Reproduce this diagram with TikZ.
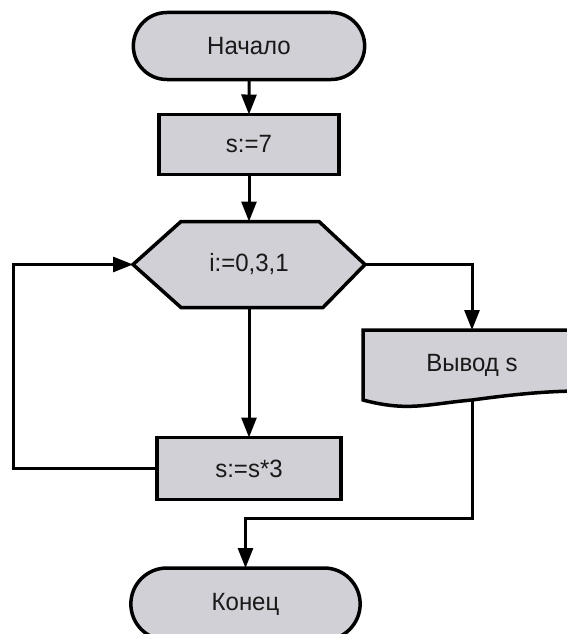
\documentclass[tikz,border=0pt]{standalone}
\usepackage{fontspec}
\setmainfont{Liberation Sans}[FakeStretch=0.96]
\usetikzlibrary{arrows.meta, backgrounds, calc, positioning, shapes.misc}
\definecolor{block fill}{RGB}{208,208,214}

\begin{document}
\begin{tikzpicture}[node distance=35pt, font=\fontsize{25pt}{28pt}\selectfont]
\tikzset{every node/.style={inner sep=1mm, outer sep=0mm, text=black!90}}

\tikzstyle{terminal}=[rounded rectangle, draw=black, fill=block fill, line width=3.5pt, minimum width=237pt, minimum height=67pt]
\tikzstyle{process}=[rectangle, draw=black, fill=block fill, line width=3.5pt, minimum width=180pt, minimum height=60pt]
\tikzstyle{loop head}=[rectangle, minimum width=232pt, minimum height=86pt] % border drawn below
\tikzstyle{display}=[rectangle, minimum width=218pt, minimum height=70pt] % border drawn below
\tikzstyle{outline}=[draw=black, fill=block fill, line width=3.5pt]
\tikzstyle{post}=[-{Triangle[length=20pt, width=15pt]}, line width=3pt]

\clip (0,0) rectangle (567pt,-634pt);

\node[terminal] (start) at (249pt,-46pt) {Начало};
\node[process, below=of start] (s init) {s:=7};
\node[loop head, below=47pt of s init] (loop) {i:=0,3,1};
\node[process, minimum width=184pt, minimum height=62pt, below=130pt of loop] (s mul) {s:=s*3};

\node[display] (print) at (472pt,-365pt) {Вывод s};
\node[terminal, minimum width=235pt, minimum height=72pt] (stop) at (245.5pt,-604pt) {Конец};

\coordinate (loop back) at (13pt,-469pt);

\begin{scope}[on background layer]
    % hexagon of the loop
    \draw[outline] (loop.west) -- ($(loop.north west)+(48pt,0)$) -- ($(loop.north east)+(-46pt,0)$) -- (loop.east) -- ($(loop.south east)+(-42pt,0)$) -- ($(loop.south west)+(48pt,0)$) -- cycle;
    % document shape of the output
    \draw[outline] (print.south west) -- (print.north west) -- (print.north east) -- ($(print.south east)+(0,9pt)$) .. controls +(-40pt,0) and +(30pt,4pt) .. (print.south) .. controls +(-45pt,-4pt) and +(45pt,-12pt) .. (print.south west) -- cycle;
\end{scope}

\path[post] (start) edge (s init);
\path[post] (s init) edge (loop);
\path[post] (loop) edge (s mul);
\draw[post] (loop.east) -| (print.north);
\draw[post] (s mul.west) -- (s mul.west -| loop back) |- (loop.west);
\draw[post] (print.south) -- ++(0,-118pt) -| (stop.north);

\end{tikzpicture}
\end{document}
